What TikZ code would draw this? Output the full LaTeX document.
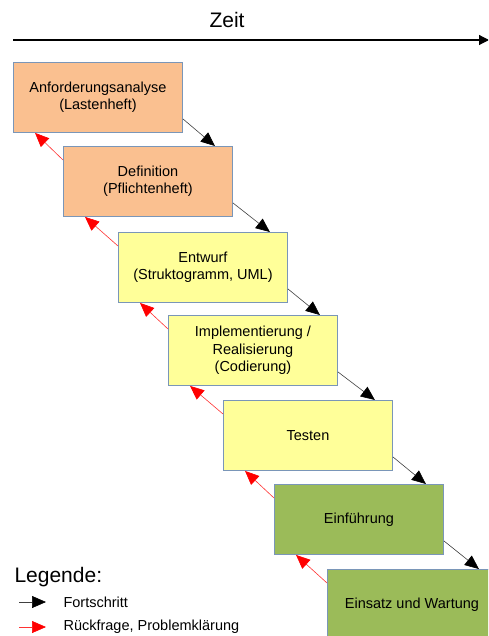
\documentclass[tikz,border=0pt]{standalone}
\usepackage{fontspec}
\setmainfont{Liberation Sans}
\usetikzlibrary{arrows.meta}
\definecolor{phaseorange}{HTML}{FAC090}
\definecolor{phaseyellow}{HTML}{FFFF99}
\definecolor{phasegreen}{HTML}{9BBB59}
\definecolor{boxedge}{HTML}{7A96B8}
\tikzset{
  phase/.style={draw=boxedge, line width=0.9pt, rectangle, anchor=north west,
    minimum width=169pt, minimum height=70pt, inner sep=2pt, align=center,
    font=\fontsize{14.5}{17.5}\selectfont},
  fwd/.style={draw=black!75, line width=0.6pt, -{Triangle[length=14pt,width=12pt,color=black]}},
  back/.style={draw=red!80, line width=0.6pt, -{Triangle[length=14pt,width=12pt,color=red]}},
  legtext/.style={anchor=west, font=\fontsize{14.5}{16}\selectfont}
}
\begin{document}
\begin{tikzpicture}[x=1pt,y=-1pt]
  \clip (0,0) rectangle (488,636);
  \useasboundingbox (0,0) rectangle (488,636);

  % time axis
  \node[font=\fontsize{21}{24}\selectfont] (zeit) at (227,20) {Zeit};
  \coordinate (axL) at (13,40);
  \coordinate (axR) at (489,40);
  \draw[line width=1.1pt, -{Triangle[length=10pt,width=10pt]}] (axL) -- (axR);

  % phases
  \node[phase, fill=phaseorange] (b1) at (13,62)  {Anforderungsanalyse\\(Lastenheft)};
  \node[phase, fill=phaseorange] (b2) at (63,146) {Definition\\(Pflichtenheft)};
  \node[phase, fill=phaseyellow] (b3) at (118,232) {Entwurf\\(Struktogramm, UML)};
  \node[phase, fill=phaseyellow] (b4) at (168,315) {Implementierung /\\Realisierung\\(Codierung)};
  \node[phase, fill=phaseyellow] (b5) at (223,400) {Testen};
  \node[phase, fill=phasegreen]  (b6) at (274,484) {Einführung};
  \node[phase, fill=phasegreen]  (b7) at (327,569) {Einsatz und Wartung};

  % progress and feedback arrows
  \foreach \a/\b in {b1/b2,b2/b3,b3/b4,b4/b5,b5/b6,b6/b7}{
    \draw[fwd] ([yshift=14pt]\a.south east) -- ([xshift=-18pt]\b.north east);
    \draw[back] ([yshift=-14pt]\b.north west) -- ([xshift=22pt]\a.south west);
  }

  % legend
  \node[anchor=west, font=\fontsize{21}{24}\selectfont] (leg) at (11,577) {Legende:};
  \coordinate (l1a) at (19,602); \coordinate (l1b) at (46,602);
  \coordinate (l2a) at (19,627); \coordinate (l2b) at (46,627);
  \draw[fwd] (l1a) -- (l1b);
  \draw[back] (l2a) -- (l2b);
  \node[legtext] (lt1) at (60,602) {Fortschritt};
  \node[legtext] (lt2) at (60,627) {Rückfrage, Problemklärung};
\end{tikzpicture}
\end{document}
